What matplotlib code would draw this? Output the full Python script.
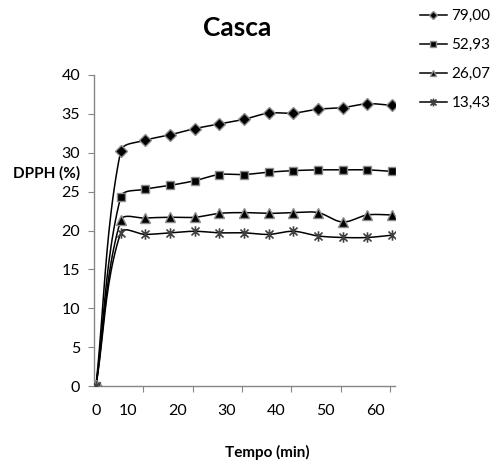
import matplotlib
matplotlib.use("Agg")
import matplotlib.pyplot as plt
import matplotlib.transforms as mtransforms
from matplotlib.path import Path
import numpy as np

plt.rcParams["font.family"] = ["Lato", "DejaVu Sans"]

# ---------------------------------------------------------------------------
# Dados
# ---------------------------------------------------------------------------

tempos    = [0, 5, 10, 15, 20, 25, 30, 35, 40, 45, 50, 55, 60]
serie_79  = [0, 30.2, 31.6, 32.3, 33.1, 33.7, 34.3, 35.1, 35.1, 35.6, 35.8, 36.3, 36.1]
serie_52  = [0, 24.3, 25.3, 25.8, 26.4, 27.2, 27.2, 27.5, 27.7, 27.8, 27.8, 27.8, 27.6]
serie_26  = [0, 21.3, 21.6, 21.7, 21.7, 22.2, 22.3, 22.2, 22.3, 22.3, 21.1, 22.0, 22.0]
serie_13  = [0, 19.7, 19.5, 19.7, 19.9, 19.7, 19.7, 19.5, 19.9, 19.3, 19.1, 19.1, 19.4]
rotulos   = ["79,00", "52,93", "26,07", "13,43"]

rotulos_x = ["10", "20", "30", "40", "50", "60"]
ticks_y   = [0, 5, 10, 15, 20, 25, 30, 35, 40]

# deslocamento do eixo x (o eixo começa um pouco antes do primeiro ponto)
x0 = -0.4

# escala aproximada em pixels por unidade (para a suavização em tela)
ESC_X = 4.93
ESC_Y = 7.78


def suavizar(x, y, n=24, k=1 / 3):
    """Curva suavizada em espaço de tela, com braços proporcionais ao segmento."""
    sx = np.asarray(x, float) * ESC_X
    sy = np.asarray(y, float) * ESC_Y
    P = np.column_stack([sx, sy])
    m = len(P)
    tang = np.zeros_like(P)
    for i in range(m):
        a = P[max(i - 1, 0)]
        b = P[min(i + 1, m - 1)]
        d = b - a
        tang[i] = d / np.hypot(*d)
    t = np.linspace(0, 1, n)
    pts = []
    for i in range(m - 1):
        p1, p2 = P[i], P[i + 1]
        L = np.hypot(*(p2 - p1))
        c1 = p1 + tang[i] * L * k
        c2 = p2 - tang[i + 1] * L * k
        b = ((1 - t) ** 3)[:, None] * p1 + (3 * (1 - t) ** 2 * t)[:, None] * c1 \
            + (3 * (1 - t) * t ** 2)[:, None] * c2 + (t ** 3)[:, None] * p2
        pts.append(b)
    pts = np.concatenate(pts)
    return pts[:, 0] / ESC_X, pts[:, 1] / ESC_Y


asterisco = Path(
    [(-1, -1), (1, 1), (-1, 1), (1, -1), (0, -1.3), (0, 1.3)],
    [Path.MOVETO, Path.LINETO, Path.MOVETO, Path.LINETO, Path.MOVETO, Path.LINETO],
)

estilos = [
    dict(marker="D", ms=6.0, mfc="black", mec="#8c8c8c", mew=1.0),
    dict(marker="s", ms=5.5, mfc="black", mec="#8c8c8c", mew=1.0),
    dict(marker="^", ms=6.5, mfc="black", mec="#8c8c8c", mew=1.0),
    dict(marker=asterisco, ms=7.5, mfc="none", mec="#404040", mew=1.2),
]

# ---------------------------------------------------------------------------
# Figura
# ---------------------------------------------------------------------------

fig = plt.figure(figsize=(4.96, 4.72), dpi=100)
ax = fig.add_axes([94 / 496, 1 - 386 / 472, 301 / 496, 311 / 472])

series = [serie_79, serie_52, serie_26, serie_13]
handles = []
for serie, est, rot in zip(series, estilos, rotulos):
    xs, ys = suavizar(tempos, serie)
    ax.plot(xs, ys, color="black", lw=1.1, zorder=3)
    ax.plot(tempos, serie, ls="none", zorder=4, **est)
    est_leg = dict(est)
    est_leg["ms"] = est["ms"] * 0.75
    h, = ax.plot([], [], color="black", lw=1.1, **est_leg)
    handles.append(h)

ax.set_xlim(x0, x0 + 61)
ax.set_ylim(0, 40)
ax.set_yticks(ticks_y)

xt = [x0] + [x0 + 10 * (i + 1) for i in range(len(rotulos_x))]
ax.set_xticks(xt)
ax.set_xticklabels(["0"] + rotulos_x)

for s in ["top", "right"]:
    ax.spines[s].set_visible(False)
for s in ["left", "bottom"]:
    ax.spines[s].set_color("#868686")
    ax.spines[s].set_linewidth(1.0)

ax.tick_params(axis="y", direction="out", length=4, color="#868686",
               labelsize=11.5, pad=6)
ax.tick_params(axis="x", direction="out", length=4, color="#868686",
               labelsize=11.5, pad=9)

# rótulos do eixo x deslocados como no original
for i, lab in enumerate(ax.get_xticklabels()):
    dx = 2 if i == 0 else -15
    lab.set_transform(lab.get_transform()
                      + mtransforms.ScaledTranslation(dx / 100, 0, fig.dpi_scale_trans))
ax.get_xticklines()[0].set_visible(False)

fig.text(237 / 496, 1 - 28 / 472, "Casca", ha="center", va="center",
         fontsize=19, fontweight="bold")
fig.text(47 / 496, 1 - 173 / 472, "DPPH (%)", ha="center", va="center",
         fontsize=11, fontweight="bold")
fig.text(267 / 496, 1 - 452 / 472, "Tempo (min)", ha="center", va="center",
         fontsize=11, fontweight="bold")

fig.legend(handles, rotulos, loc="upper left",
           bbox_to_anchor=(420 / 496, 1 - 9 / 472), frameon=False,
           fontsize=11, handlelength=1.75, handletextpad=0.3,
           labelspacing=0.98, borderpad=0, borderaxespad=0)

fig.savefig("out.png", dpi=100)
